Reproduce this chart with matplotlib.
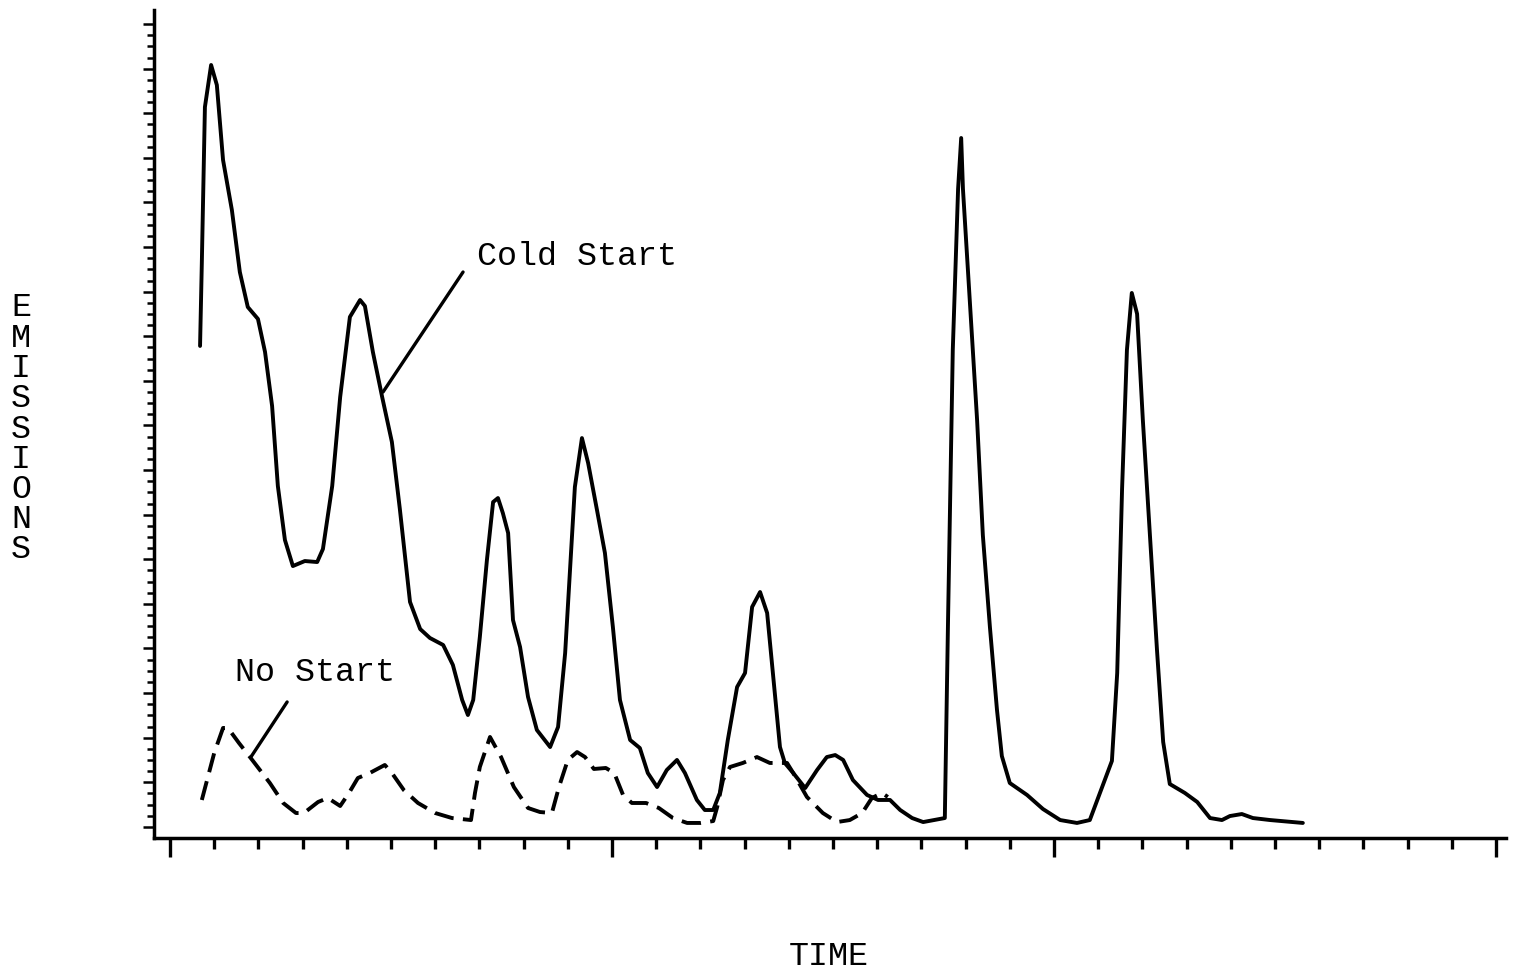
import matplotlib
matplotlib.use("Agg")
import matplotlib.pyplot as plt
from matplotlib.ticker import FixedLocator, NullFormatter

# ---- data (time units = x tick intervals, emission units = y tick intervals) ----
cold_time = [0.68, 0.72, 0.79, 0.93, 1.06, 1.20, 1.40, 1.58, 1.76, 1.99, 2.15, 2.31,
             2.44, 2.60, 2.78, 3.05, 3.33, 3.46, 3.67, 3.85, 4.07, 4.30, 4.41, 4.59,
             4.80, 5.02, 5.20, 5.43, 5.66, 5.88, 6.18, 6.40, 6.61, 6.74, 6.86, 7.01,
             7.17, 7.31, 7.42, 7.53, 7.65, 7.76, 7.92, 8.10, 8.30, 8.60, 8.78, 8.94,
             9.05, 9.16, 9.32, 9.46, 9.66, 9.84, 10.02, 10.18, 10.41, 10.63, 10.81,
             11.02, 11.24, 11.47, 11.65, 11.92, 12.10, 12.29, 12.44, 12.62, 12.83,
             13.01, 13.17, 13.35, 13.51, 13.64, 13.80, 13.91, 14.10, 14.37, 14.64,
             14.86, 15.05, 15.23, 15.45, 15.77, 16.02, 16.29, 16.52, 16.79, 17.04,
             17.53, 17.60, 17.71, 17.83, 17.90, 17.94, 18.10, 18.26, 18.39, 18.55,
             18.71, 18.82, 19.00, 19.39, 19.75, 20.14, 20.52, 20.81, 21.04, 21.31,
             21.43, 21.54, 21.65, 21.76, 21.88, 22.01, 22.17, 22.33, 22.47, 22.62,
             22.96, 23.24, 23.53, 23.80, 23.98, 24.25, 24.50, 24.89, 25.63]
cold_emis = [44.13, 51.57, 65.56, 69.33, 67.53, 60.81, 56.32, 50.76, 47.62, 46.55, 43.59,
             38.74, 31.57, 26.73, 24.39, 24.84, 24.75, 25.92, 31.57, 39.55, 46.73, 48.25,
             47.71, 43.59, 39.55, 35.52, 29.51, 21.17, 18.74, 17.94, 17.31, 15.52, 12.38,
             11.03, 12.38, 18.03, 24.93, 30.13, 30.49, 29.15, 27.35, 19.55, 17.13, 12.65,
             9.69, 8.16, 9.96, 16.59, 24.04, 31.48, 35.87, 33.63, 29.42, 25.56, 18.92,
             12.38, 8.79, 8.07, 5.83, 4.57, 6.10, 7.00, 5.83, 3.41, 2.51, 2.51, 4.04,
             8.79, 13.54, 14.80, 20.72, 22.06, 20.18, 14.80, 8.16, 6.73, 5.83, 4.48,
             6.10, 7.26, 7.44, 7.00, 5.20, 3.86, 3.41, 3.41, 2.51, 1.79, 1.43, 1.79,
             18.92, 43.77, 58.21, 62.78, 58.21, 47.89, 37.49, 27.17, 18.92, 11.48, 7.35,
             4.93, 3.86, 2.60, 1.61, 1.35, 1.61, 4.04, 6.91, 14.80, 31.30, 43.77, 48.88,
             47.00, 37.49, 27.17, 16.86, 8.61, 4.84, 4.04, 3.23, 1.79, 1.61, 1.97, 2.15,
             1.79, 1.61, 1.35]

nostart_time = [0.72, 1.00, 1.20, 1.31, 1.56, 1.86, 2.26, 2.56, 2.85, 3.03, 3.35, 3.57,
                3.85, 4.05, 4.25, 4.52, 4.86, 5.02, 5.29, 5.61, 6.00, 6.38, 6.81, 6.90,
                7.01, 7.24, 7.49, 7.78, 8.10, 8.37, 8.64, 8.80, 9.00, 9.21, 9.39, 9.59,
                9.86, 10.05, 10.25, 10.45, 10.77, 11.06, 11.38, 11.70, 12.01, 12.29,
                12.38, 12.51, 12.67, 12.96, 13.28, 13.57, 13.96, 14.10, 14.41, 14.77,
                15.09, 15.38, 15.66, 15.88, 16.11, 16.24]
nostart_emis = [3.41, 7.62, 9.87, 9.87, 8.52, 7.00, 4.93, 3.14, 2.24, 2.24, 3.23, 3.59,
                2.87, 4.04, 5.38, 5.83, 6.55, 5.83, 4.30, 3.14, 2.24, 1.79, 1.61, 4.04,
                6.37, 9.06, 7.26, 4.57, 2.69, 2.33, 2.24, 4.57, 7.00, 7.71, 7.26, 6.19,
                6.28, 5.83, 3.86, 3.14, 3.14, 2.69, 1.79, 1.35, 1.35, 1.52, 2.78, 5.20,
                6.37, 6.73, 7.26, 6.73, 6.73, 5.83, 3.68, 2.24, 1.43, 1.61, 2.24, 3.59,
                4.04, 3.68]

labels = ["Cold Start", "No Start"]
x_label = "TIME"
y_label = "EMISSIONS"

# label anchors (data units) and leader-line endpoints
cold_label_pos = (6.95, 51.39)
cold_leader = ([6.63, 4.82], [50.76, 40.0])
nostart_label_pos = (1.47, 14.08)
nostart_leader = ([2.65, 1.83], [12.20, 7.26])

x_minor = list(range(0, 31))
x_major = [0, 10, 20, 30]
y_minor = list(range(1, 74))
y_major = list(range(1, 74, 4))

# ---- figure ----
W, H = 1513, 975
fig = plt.figure(figsize=(W / 100, H / 100), dpi=100)
fig.patch.set_facecolor("white")

def px_x(p):
    return p / W

def px_y(p):
    return 1 - p / H

left, right, top, bottom = 154, 1506, 10, 838
ax = fig.add_axes([px_x(left), px_y(bottom), (right - left) / W, (bottom - top) / H])
ax.set_xlim((left - 170) / 44.2, (right - 170) / 44.2)
ax.set_ylim(0, (bottom - top) / 11.15)

font = "Liberation Mono"
fs = 24
lw = 2.8

ax.plot(cold_time, cold_emis, color="black", lw=lw, solid_joinstyle="round",
        solid_capstyle="round")
ax.plot(nostart_time, nostart_emis, color="black", lw=lw,
        linestyle=(0, (5.0, 2.4)), dash_capstyle="butt", dash_joinstyle="round")

ax.plot(*cold_leader, color="black", lw=2.4, solid_capstyle="round")
ax.plot(*nostart_leader, color="black", lw=2.4, solid_capstyle="round")

ax.text(*cold_label_pos, labels[0], family=font, fontsize=fs, ha="left", va="baseline")
ax.text(*nostart_label_pos, labels[1], family=font, fontsize=fs, ha="left", va="baseline")

for s in ["top", "right"]:
    ax.spines[s].set_visible(False)
for s in ["left", "bottom"]:
    ax.spines[s].set_linewidth(2.5)
    ax.spines[s].set_color("black")

ax.xaxis.set_major_locator(FixedLocator(x_major))
ax.xaxis.set_minor_locator(FixedLocator(x_minor))
ax.yaxis.set_major_locator(FixedLocator(y_major))
ax.yaxis.set_minor_locator(FixedLocator(y_minor))
ax.xaxis.set_major_formatter(NullFormatter())
ax.yaxis.set_major_formatter(NullFormatter())
ax.tick_params(axis="x", which="major", direction="out", length=14, width=2.4, color="black")
ax.tick_params(axis="x", which="minor", direction="out", length=8, width=2.4, color="black")
ax.tick_params(axis="y", which="major", direction="out", length=8, width=1.8, color="black")
ax.tick_params(axis="y", which="minor", direction="out", length=5, width=1.8, color="black")
ax.set_facecolor("white")

# axis titles (typewriter style)
fig.text(px_x(829), px_y(965), x_label, family=font, fontsize=fs, ha="center", va="baseline")
step = (550 - 308) / (len(y_label) - 1)
for i, ch in enumerate(y_label):
    fig.text(px_x(21), px_y(308 + i * step), ch, family=font, fontsize=fs,
             ha="center", va="center")

fig.savefig("out.png", dpi=100, facecolor="white")
